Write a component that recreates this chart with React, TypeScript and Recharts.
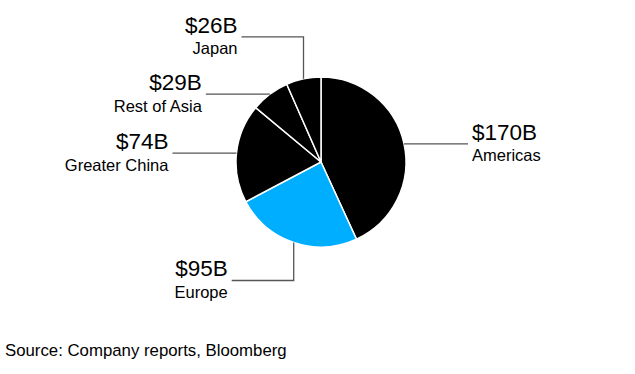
import { PieChart, Pie, Cell } from "recharts";

const regions = ["Americas", "Europe", "Greater China", "Rest of Asia", "Japan"];
const revenue = [170, 95, 74, 29, 26];
const sliceColors = ["#000000", "#00aeff", "#000000", "#000000", "#000000"];

// leader line shape per slice: optional vertical leg, then horizontal leg
const leaders = [
  { up: 0, down: 0, side: 1, len: 64 },
  { up: 0, down: 38, side: -1, len: 62 },
  { up: 0, down: 0, side: -1, len: 64 },
  { up: 0, down: 0, side: -1, len: 64 },
  { up: 42, down: 0, side: -1, len: 62 },
];

const data = regions.map((name, i) => ({ name, value: revenue[i] }));

const RADIAN = Math.PI / 180;
const font = "'Liberation Sans', Arial, Helvetica, sans-serif";

function renderLabel(props: any) {
  const { cx, cy, midAngle, outerRadius, index, name, value } = props;
  const cfg = leaders[index];
  const x0 = cx + outerRadius * Math.cos(-midAngle * RADIAN);
  const y0 = cy + outerRadius * Math.sin(-midAngle * RADIAN);
  let x1 = x0;
  let y1 = y0;
  let path = `M${x0},${y0}`;
  if (cfg.up || cfg.down) {
    y1 = y0 - cfg.up + cfg.down;
    path += ` L${x1},${y1}`;
  }
  const x2 = x1 + cfg.side * cfg.len;
  path += ` L${x2},${y1}`;
  const tx = x2 + cfg.side * 4;
  const anchor = cfg.side > 0 ? "start" : "end";
  return (
    <g key={`lbl-${index}`}>
      <path d={path} stroke="#555" strokeWidth={1.3} fill="none" />
      <text x={tx} y={y1 - 4} textAnchor={anchor} fontSize={22.5} fill="#000" fontFamily={font}>
        ${value}B
      </text>
      <text x={tx} y={y1 + 17.5} textAnchor={anchor} fontSize={16.5} fill="#000" fontFamily={font}>
        {name}
      </text>
    </g>
  );
}

export default function App() {
  return (
    <div style={{ position: "absolute", left: 0, top: 0, width: 635, height: 374, background: "#fff" }}>
      <PieChart width={635} height={374} margin={{ top: 0, right: 0, bottom: 0, left: 0 }}>
        <Pie
          data={data}
          dataKey="value"
          nameKey="name"
          cx={321}
          cy={162}
          outerRadius={85}
          startAngle={90}
          endAngle={-270}
          stroke="#fff"
          strokeWidth={1.5}
          label={renderLabel}
          labelLine={false}
          isAnimationActive={false}
        >
          {data.map((d, i) => (
            <Cell key={d.name} fill={sliceColors[i]} />
          ))}
        </Pie>
      </PieChart>
      <div
        style={{
          position: "absolute",
          left: 5,
          top: 341,
          fontFamily: font,
          fontSize: 16.8,
          color: "#000",
          whiteSpace: "nowrap",
        }}
      >
        Source: Company reports, Bloomberg
      </div>
    </div>
  );
}
